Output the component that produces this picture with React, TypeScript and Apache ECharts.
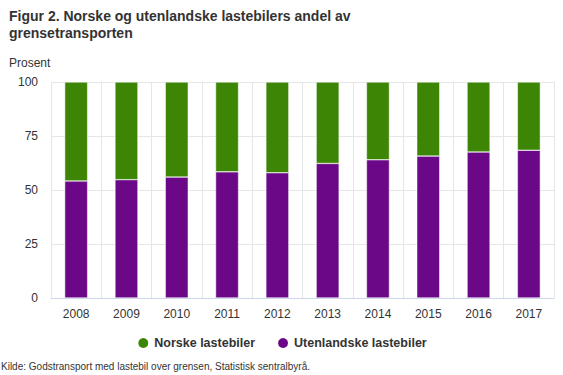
import React, { useEffect, useRef } from "react";
import * as echarts from "echarts";

const years = ["2008", "2009", "2010", "2011", "2012", "2013", "2014", "2015", "2016", "2017"];
const utenlandske = [54.2, 54.8, 56, 58.4, 58, 62.3, 64, 65.7, 67.6, 68.4];
const norske = [45.8, 45.2, 44, 41.6, 42, 37.7, 36, 34.3, 32.4, 31.6];
const yTicks = [0, 25, 50, 75, 100];

const GREEN = "#3d8504";
const PURPLE = "#6a0888";
const FONT = "Liberation Sans, Arial, Helvetica, sans-serif";

export default function App() {
  const ref = useRef<HTMLDivElement>(null);
  useEffect(() => {
    const chart = echarts.init(ref.current!, null, { renderer: "svg" });
    chart.setOption({
      animation: false,
      textStyle: { fontFamily: FONT },
      title: {
        text: "Figur 2. Norske og utenlandske lastebilers andel av\ngrensetransporten",
        left: 9,
        top: 7,
        padding: 0,
        textStyle: { fontSize: 14, fontWeight: "bold", color: "#333", lineHeight: 17, fontFamily: FONT },
      },
      legend: {
        data: ["Norske lastebiler", "Utenlandske lastebiler"],
        bottom: 20,
        left: "center",
        icon: "circle",
        itemWidth: 12,
        itemHeight: 12,
        itemGap: 21,
        textStyle: { fontSize: 12.5, fontWeight: "bold", color: "#333", fontFamily: FONT },
      },
      graphic: [
        { type: "text", left: 9, top: 57, style: { text: "Prosent", fontSize: 12, fill: "#333", fontFamily: FONT } },
        { type: "text", left: 1, top: 361, style: { text: "Kilde: Godstransport med lastebil over grensen, Statistisk sentralbyrå.", fontSize: 10, fill: "#333", fontFamily: FONT } },
      ],
      grid: { left: 51, right: 9, top: 82, bottom: 77, containLabel: false },
      xAxis: {
        type: "category",
        data: years,
        axisLine: { lineStyle: { color: "#ccd6eb" } },
        axisTick: { lineStyle: { color: "#ccd6eb" }, length: 8 },
        axisLabel: { color: "#333", fontSize: 12, margin: 10, fontFamily: FONT },
        splitLine: { show: true, lineStyle: { color: "#e6e6e6" } },
      },
      yAxis: {
        type: "value",
        min: 0,
        max: 100,
        interval: 25,
        axisLabel: { color: "#333", fontSize: 12, margin: 13, fontFamily: FONT, formatter: (v: number) => (yTicks.includes(v) ? String(v) : "") },
        splitLine: { lineStyle: { color: "#e6e6e6" } },
        axisLine: { show: false },
        axisTick: { show: false },
      },
      series: [
        {
          name: "Utenlandske lastebiler",
          type: "bar",
          stack: "total",
          data: utenlandske,
          barWidth: 23,
          itemStyle: { color: PURPLE, borderColor: "#ffffff", borderWidth: 0.5 },
        },
        {
          name: "Norske lastebiler",
          type: "bar",
          stack: "total",
          data: norske,
          barWidth: 23,
          itemStyle: { color: GREEN, borderColor: "#ffffff", borderWidth: 0.5 },
        },
      ],
    });
    return () => chart.dispose();
  }, []);
  return <div ref={ref} style={{ width: 563, height: 375, position: "absolute", left: 0, top: 0 }} />;
}
